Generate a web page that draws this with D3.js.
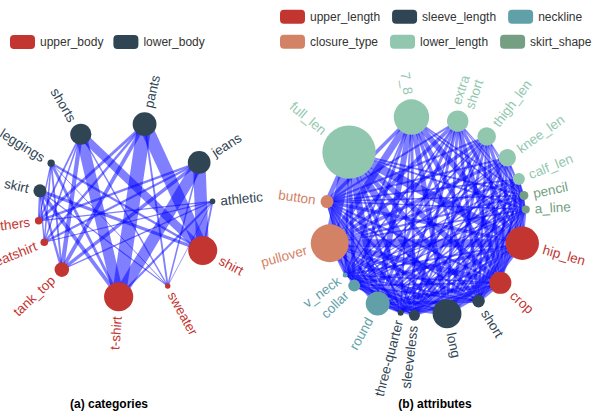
<!DOCTYPE html>
<html>
<head>
<meta charset="utf-8">
<script src="https://cdn.jsdelivr.net/npm/d3@7"></script>
<style>
  html, body { margin: 0; padding: 0; background: #fff; }
  svg { display: block; font-family: "Liberation Sans", Arial, Helvetica, sans-serif; }
</style>
</head>
<body>
<svg id="chart" width="592" height="414"></svg>
<script>
// Shared colour palette, one colour per group
const palette = ["#c23531", "#2f4554", "#61a0a8", "#d48265", "#91c7ae", "#749f83"];

// ---------- (a) clothing categories ----------
const categoryGroupNames = ["upper_body", "lower_body"];
const categoryNames  = ["shirt", "sweater", "t-shirt", "tank_top", "sweatshirt", "others",
                        "skirt", "leggings", "shorts", "pants", "jeans", "athletic"];
const categoryGroups = ["upper_body", "upper_body", "upper_body", "upper_body", "upper_body", "upper_body",
                        "lower_body", "lower_body", "lower_body", "lower_body", "lower_body", "lower_body"];
const categoryCounts = [2780, 520, 2800, 1400, 730, 720, 1250, 700, 2030, 2280, 2180, 530];
// co-occurrence of an upper and a lower garment: [upper, lower, count]
const categoryLinks = [
  ["shirt", "skirt", 300], ["shirt", "leggings", 200], ["shirt", "shorts", 800],
  ["shirt", "pants", 1300], ["shirt", "jeans", 1250], ["shirt", "athletic", 150],
  ["sweater", "skirt", 80], ["sweater", "leggings", 60], ["sweater", "shorts", 100],
  ["sweater", "pants", 150], ["sweater", "jeans", 120], ["sweater", "athletic", 40],
  ["t-shirt", "skirt", 350], ["t-shirt", "leggings", 250], ["t-shirt", "shorts", 1100],
  ["t-shirt", "pants", 1400], ["t-shirt", "jeans", 1150], ["t-shirt", "athletic", 180],
  ["tank_top", "skirt", 200], ["tank_top", "leggings", 150], ["tank_top", "shorts", 400],
  ["tank_top", "pants", 350], ["tank_top", "jeans", 300], ["tank_top", "athletic", 100],
  ["sweatshirt", "skirt", 100], ["sweatshirt", "leggings", 120], ["sweatshirt", "shorts", 120],
  ["sweatshirt", "pants", 200], ["sweatshirt", "jeans", 180], ["sweatshirt", "athletic", 80],
  ["others", "skirt", 150], ["others", "leggings", 100], ["others", "shorts", 150],
  ["others", "pants", 250], ["others", "jeans", 200], ["others", "athletic", 90]
];

// ---------- (b) garment attributes ----------
const attributeGroupNames = ["upper_length", "sleeve_length", "neckline", "closure_type", "lower_length", "skirt_shape"];
const attributeNames  = ["hip_len", "crop", "short", "long", "sleeveless", "three-quarter",
                         "round", "collar", "v_neck", "pullover", "button",
                         "full_len", "7_8", "extra short", "thigh_len", "knee_len", "calf_len",
                         "pencil", "a_line"];
const attributeGroups = ["upper_length", "upper_length",
                         "sleeve_length", "sleeve_length", "sleeve_length", "sleeve_length",
                         "neckline", "neckline", "neckline", "closure_type", "closure_type",
                         "lower_length", "lower_length", "lower_length", "lower_length", "lower_length", "lower_length",
                         "skirt_shape", "skirt_shape"];
const attributeCounts = [1670, 1100, 630, 1440, 550, 300, 1200, 600, 250, 1900, 650,
                         2670, 1770, 1070, 930, 870, 600, 450, 400];
// co-occurrence of two attributes: [attribute, attribute, count]
const attributeLinks = [
  ["full_len", "hip_len", 700], ["full_len", "crop", 450], ["full_len", "short", 350], ["full_len", "long", 600],
  ["full_len", "sleeveless", 250], ["full_len", "three-quarter", 120], ["full_len", "round", 550],
  ["full_len", "collar", 250], ["full_len", "v_neck", 120], ["full_len", "pullover", 900], ["full_len", "button", 350],
  ["7_8", "hip_len", 450], ["7_8", "crop", 350], ["7_8", "short", 250], ["7_8", "long", 400],
  ["7_8", "sleeveless", 200], ["7_8", "three-quarter", 100], ["7_8", "round", 450],
  ["7_8", "collar", 200], ["7_8", "v_neck", 100], ["7_8", "pullover", 550], ["7_8", "button", 250],
  ["extra short", "hip_len", 250], ["extra short", "crop", 300], ["extra short", "short", 220], ["extra short", "long", 180],
  ["extra short", "sleeveless", 180], ["extra short", "three-quarter", 70], ["extra short", "round", 220],
  ["extra short", "collar", 120], ["extra short", "v_neck", 70], ["extra short", "pullover", 280], ["extra short", "button", 120],
  ["thigh_len", "hip_len", 250], ["thigh_len", "crop", 220], ["thigh_len", "short", 150], ["thigh_len", "long", 200],
  ["thigh_len", "sleeveless", 130], ["thigh_len", "three-quarter", 70], ["thigh_len", "round", 200],
  ["thigh_len", "collar", 100], ["thigh_len", "v_neck", 60], ["thigh_len", "pullover", 250], ["thigh_len", "button", 120],
  ["knee_len", "hip_len", 250], ["knee_len", "crop", 180], ["knee_len", "short", 130], ["knee_len", "long", 200],
  ["knee_len", "sleeveless", 120], ["knee_len", "three-quarter", 70], ["knee_len", "round", 180],
  ["knee_len", "collar", 100], ["knee_len", "v_neck", 60], ["knee_len", "pullover", 250], ["knee_len", "button", 120],
  ["calf_len", "hip_len", 180], ["calf_len", "crop", 130], ["calf_len", "short", 100], ["calf_len", "long", 130],
  ["calf_len", "sleeveless", 80], ["calf_len", "three-quarter", 50], ["calf_len", "round", 130],
  ["calf_len", "collar", 70], ["calf_len", "v_neck", 40], ["calf_len", "pullover", 180], ["calf_len", "button", 100],
  ["pencil", "hip_len", 130], ["pencil", "crop", 80], ["pencil", "short", 70], ["pencil", "long", 100],
  ["pencil", "sleeveless", 60], ["pencil", "three-quarter", 40], ["pencil", "round", 100],
  ["pencil", "collar", 60], ["pencil", "v_neck", 40], ["pencil", "pullover", 130], ["pencil", "button", 80],
  ["a_line", "hip_len", 110], ["a_line", "crop", 80], ["a_line", "short", 70], ["a_line", "long", 80],
  ["a_line", "sleeveless", 60], ["a_line", "three-quarter", 40], ["a_line", "round", 90],
  ["a_line", "collar", 60], ["a_line", "v_neck", 40], ["a_line", "pullover", 110], ["a_line", "button", 70],
  ["hip_len", "short", 250], ["hip_len", "long", 450], ["hip_len", "sleeveless", 180], ["hip_len", "three-quarter", 120],
  ["hip_len", "round", 400], ["hip_len", "collar", 220], ["hip_len", "v_neck", 120],
  ["hip_len", "pullover", 650], ["hip_len", "button", 250],
  ["crop", "short", 250], ["crop", "long", 250], ["crop", "sleeveless", 180], ["crop", "three-quarter", 70],
  ["crop", "round", 300], ["crop", "collar", 120], ["crop", "v_neck", 80],
  ["crop", "pullover", 450], ["crop", "button", 130],
  ["short", "round", 220], ["short", "collar", 120], ["short", "v_neck", 70], ["short", "pullover", 280], ["short", "button", 120],
  ["long", "round", 350], ["long", "collar", 220], ["long", "v_neck", 100], ["long", "pullover", 450], ["long", "button", 220],
  ["sleeveless", "round", 180], ["sleeveless", "collar", 80], ["sleeveless", "v_neck", 70],
  ["sleeveless", "pullover", 220], ["sleeveless", "button", 80],
  ["three-quarter", "round", 100], ["three-quarter", "collar", 60], ["three-quarter", "v_neck", 40],
  ["three-quarter", "pullover", 120], ["three-quarter", "button", 60],
  ["round", "pullover", 550], ["round", "button", 130],
  ["collar", "pullover", 180], ["collar", "button", 220],
  ["v_neck", "pullover", 100], ["v_neck", "button", 50],
  ["full_len", "pencil", 120], ["full_len", "a_line", 120], ["7_8", "pencil", 80], ["7_8", "a_line", 80],
  ["extra short", "pencil", 40], ["extra short", "a_line", 40], ["thigh_len", "pencil", 50], ["thigh_len", "a_line", 50],
  ["knee_len", "pencil", 60], ["knee_len", "a_line", 60], ["calf_len", "pencil", 40], ["calf_len", "a_line", 40]
];

const svg = d3.select("#chart");

// Circular graph: each node takes an arc proportional to its count,
// node radius and link width grow linearly with their counts.
function drawCircularGraph(cfg) {
  const g = svg.append("g");
  const total = d3.sum(cfg.counts);
  const angle = d3.scaleLinear().domain([0, total]).range([0, 2 * Math.PI]);
  const radius = d3.scaleLinear().domain([0, d3.max(cfg.counts)]).range([0, cfg.maxNodeRadius]);
  const width = d3.scaleLinear().domain([0, d3.max(cfg.links, d => d[2])]).range([cfg.minLinkWidth, cfg.maxLinkWidth]);
  const color = d3.scaleOrdinal().domain(cfg.groupNames).range(palette);

  const cum = d3.cumsum(cfg.counts);
  const nodes = cfg.names.map((name, i) => {
    const a = angle(cum[i] - cfg.counts[i] / 2);
    return {
      name, group: cfg.groups[i], a,
      x: cfg.cx + cfg.R * Math.cos(a),
      y: cfg.cy + cfg.R * Math.sin(a),
      r: radius(cfg.counts[i])
    };
  });
  const byName = new Map(nodes.map(d => [d.name, d]));

  // links
  g.append("g")
    .selectAll("line")
    .data(cfg.links)
    .join("line")
    .attr("x1", d => byName.get(d[0]).x)
    .attr("y1", d => byName.get(d[0]).y)
    .attr("x2", d => byName.get(d[1]).x)
    .attr("y2", d => byName.get(d[1]).y)
    .attr("stroke", "#0000ff")
    .attr("stroke-opacity", 0.5)
    .attr("stroke-width", d => width(d[2]));

  // nodes
  g.append("g")
    .selectAll("circle")
    .data(nodes)
    .join("circle")
    .attr("cx", d => d.x)
    .attr("cy", d => d.y)
    .attr("r", d => d.r)
    .attr("fill", d => color(d.group));

  // radial labels
  const labels = g.append("g")
    .selectAll("text")
    .data(nodes)
    .join("text")
    .attr("font-size", cfg.labelSize)
    .attr("fill", d => color(d.group))
    .attr("transform", d => {
      const deg = d.a * 180 / Math.PI;
      const flip = Math.cos(d.a) < 0;
      return `translate(${d.x},${d.y}) rotate(${flip ? deg - 180 : deg})`;
    })
    .attr("text-anchor", d => Math.cos(d.a) < 0 ? "end" : "start");
  labels.each(function (d) {
    const lines = d.name.split(" ");
    const flip = Math.cos(d.a) < 0;
    const off = (d.r + 5) * (flip ? -1 : 1);
    const lh = cfg.labelSize * 1.05;
    d3.select(this).selectAll("tspan")
      .data(lines)
      .join("tspan")
      .attr("x", off)
      .attr("y", (t, i) => (i - (lines.length - 1) / 2) * lh)
      .attr("dy", "0.35em")
      .text(t => t);
  });

  // legend
  const lg = svg.append("g").attr("font-size", 12);
  cfg.legendRows.forEach((row, ri) => {
    let x = cfg.legendX;
    const y = cfg.legendY + ri * 25;
    row.forEach(name => {
      lg.append("rect")
        .attr("x", x).attr("y", y - 7)
        .attr("width", 25).attr("height", 14)
        .attr("rx", 4).attr("ry", 4)
        .attr("fill", color(name));
      const t = lg.append("text")
        .attr("x", x + 30).attr("y", y)
        .attr("dy", "0.35em")
        .attr("fill", "#333")
        .text(name);
      x += 30 + t.node().getComputedTextLength() + cfg.legendGap;
    });
  });

  // panel caption
  svg.append("text")
    .attr("x", cfg.titleX).attr("y", 408)
    .attr("text-anchor", "middle")
    .attr("font-size", 12)
    .attr("font-weight", "bold")
    .attr("fill", "#000")
    .text(cfg.title);
}

drawCircularGraph({
  names: categoryNames, groups: categoryGroups, counts: categoryCounts,
  links: categoryLinks, groupNames: categoryGroupNames,
  cx: 125.4, cy: 209.5, R: 87.5, maxNodeRadius: 14.6, minLinkWidth: 0.4, maxLinkWidth: 14,
  labelSize: 13.5,
  legendRows: [["upper_body", "lower_body"]], legendX: 10, legendY: 42, legendGap: 10,
  title: "(a) categories", titleX: 109
});

drawCircularGraph({
  names: attributeNames, groups: attributeGroups, counts: attributeCounts,
  links: attributeLinks, groupNames: attributeGroupNames,
  cx: 426, cy: 216, R: 100, maxNodeRadius: 26.7, minLinkWidth: 0.6, maxLinkWidth: 11,
  labelSize: 13.5,
  legendRows: [["upper_length", "sleeve_length", "neckline"], ["closure_type", "lower_length", "skirt_shape"]],
  legendX: 280, legendY: 16.7, legendGap: 12,
  title: "(b) attributes", titleX: 435
});
</script>
</body>
</html>
